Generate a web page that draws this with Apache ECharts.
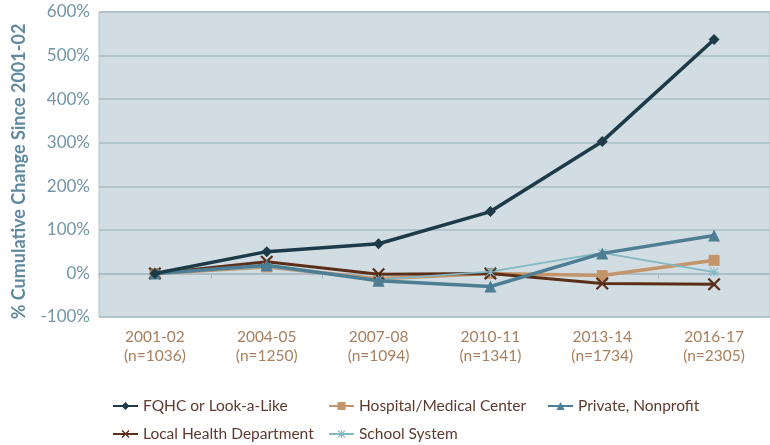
<!DOCTYPE html>
<html>
<head>
<meta charset="utf-8">
<script src="https://cdn.jsdelivr.net/npm/echarts@6/dist/echarts.min.js"></script>
<style>html,body{margin:0;padding:0;background:#fff}#c{width:770px;height:445px}</style>
</head>
<body>
<div id="c"></div>
<script>
const categories = ['2001-02\n(n=1036)', '2004-05\n(n=1250)', '2007-08\n(n=1094)', '2010-11\n(n=1341)', '2013-14\n(n=1734)', '2016-17\n(n=2305)'];
const fqhc = [0, 50, 68, 142, 303, 537];
const hospital = [0, 15, -12, 0, -5, 30];
const privateNonprofit = [0, 19, -17, -30, 46, 87];
const localHealth = [0, 27, -2, 0, -23, -25];
const schoolSystem = [0, 15, -14, 4, 47, 3];
const yTicks = [-100, 0, 100, 200, 300, 400, 500, 600];

const names = ['FQHC or Look-a-Like', 'Hospital/Medical Center', 'Private, Nonprofit', 'Local Health Department', 'School System'];
const xSym = 'path://M0,1.2L1.2,0L5,3.8L8.8,0L10,1.2L6.2,5L10,8.8L8.8,10L5,6.2L1.2,10L0,8.8L3.8,5Z';
const starSym = 'path://M4.4,0H5.6V4.4H10V5.6H5.6V10H4.4V5.6H0V4.4H4.4Z M0,0.8L0.8,0L5,4.2L9.2,0L10,0.8L5.8,5L10,9.2L9.2,10L5,5.8L0.8,10L0,9.2L4.2,5Z';

const chart = echarts.init(document.getElementById('c'));
const legendFont = { fontFamily: 'Lato', fontSize: 15.5, color: '#5d3a2f' };
function lg(name, left, top) {
  return { data: [name], left: left, top: top, itemWidth: 25, itemHeight: 10, padding: 0, textStyle: legendFont, selectedMode: false };
}
chart.setOption({
  animation: false,
  textStyle: { fontFamily: 'Lato' },
  grid: { left: 99, right: -1, top: 12, bottom: 128, show: true, backgroundColor: '#d1dde2', borderColor: '#b3c4cc', borderWidth: 1 },
  legend: [
    lg(names[0], 112, 398),
    lg(names[1], 328, 398),
    lg(names[2], 547, 398),
    lg(names[3], 112, 426),
    lg(names[4], 328, 426)
  ],
  xAxis: [
    {
      type: 'category', data: categories, boundaryGap: true,
      axisLine: { show: false, onZero: false }, axisTick: { show: false },
      axisLabel: { margin: 10, fontSize: 15.5, lineHeight: 19, color: '#a97f5d', fontFamily: 'Lato' }
    },
    {
      type: 'category', data: categories, boundaryGap: true, position: 'bottom',
      axisLine: { show: true, onZero: true, lineStyle: { color: '#a9bcc5', width: 1.5 } },
      axisTick: { show: true, length: 5, lineStyle: { color: '#a9bcc5' } },
      axisLabel: { show: false }
    }
  ],
  yAxis: {
    type: 'value', min: yTicks[0], max: yTicks[yTicks.length - 1], interval: 100,
    name: '% Cumulative Change Since 2001-02', nameLocation: 'middle', nameGap: 71, nameRotate: 90,
    nameTextStyle: { fontFamily: 'Lato', fontSize: 18, fontWeight: 'bold', color: '#6089a0', padding: [0, 14, 0, 0] },
    axisLine: { show: false }, axisTick: { show: false },
    axisLabel: { margin: 9, fontSize: 17, color: '#7395a6', fontFamily: 'Lato', formatter: v => v + '%' },
    splitLine: { lineStyle: { color: '#a9bcc5', width: 1.5 } }
  },
  series: [
    { name: names[0], type: 'line', data: fqhc, symbol: 'diamond', symbolSize: 11, z: 6,
      lineStyle: { color: '#1c3a48', width: 3.5 }, itemStyle: { color: '#1c3a48' } },
    { name: names[1], type: 'line', data: hospital, symbol: 'rect', symbolSize: 11, z: 3,
      lineStyle: { color: '#c4956a', width: 3.5 }, itemStyle: { color: '#c4956a' } },
    { name: names[2], type: 'line', data: privateNonprofit, symbol: 'triangle', symbolSize: 12, z: 5,
      lineStyle: { color: '#4d7e93', width: 3.5 }, itemStyle: { color: '#4d7e93' } },
    { name: names[3], type: 'line', data: localHealth, symbol: xSym, symbolSize: 13, z: 4,
      lineStyle: { color: '#5b2e17', width: 3 }, itemStyle: { color: '#5b2e17' } },
    { name: names[4], type: 'line', data: schoolSystem, symbol: starSym, symbolSize: 9, z: 4,
      lineStyle: { color: '#80b8c3', width: 1.8 }, itemStyle: { color: '#80b8c3' } }
  ]
});
</script>
</body>
</html>
